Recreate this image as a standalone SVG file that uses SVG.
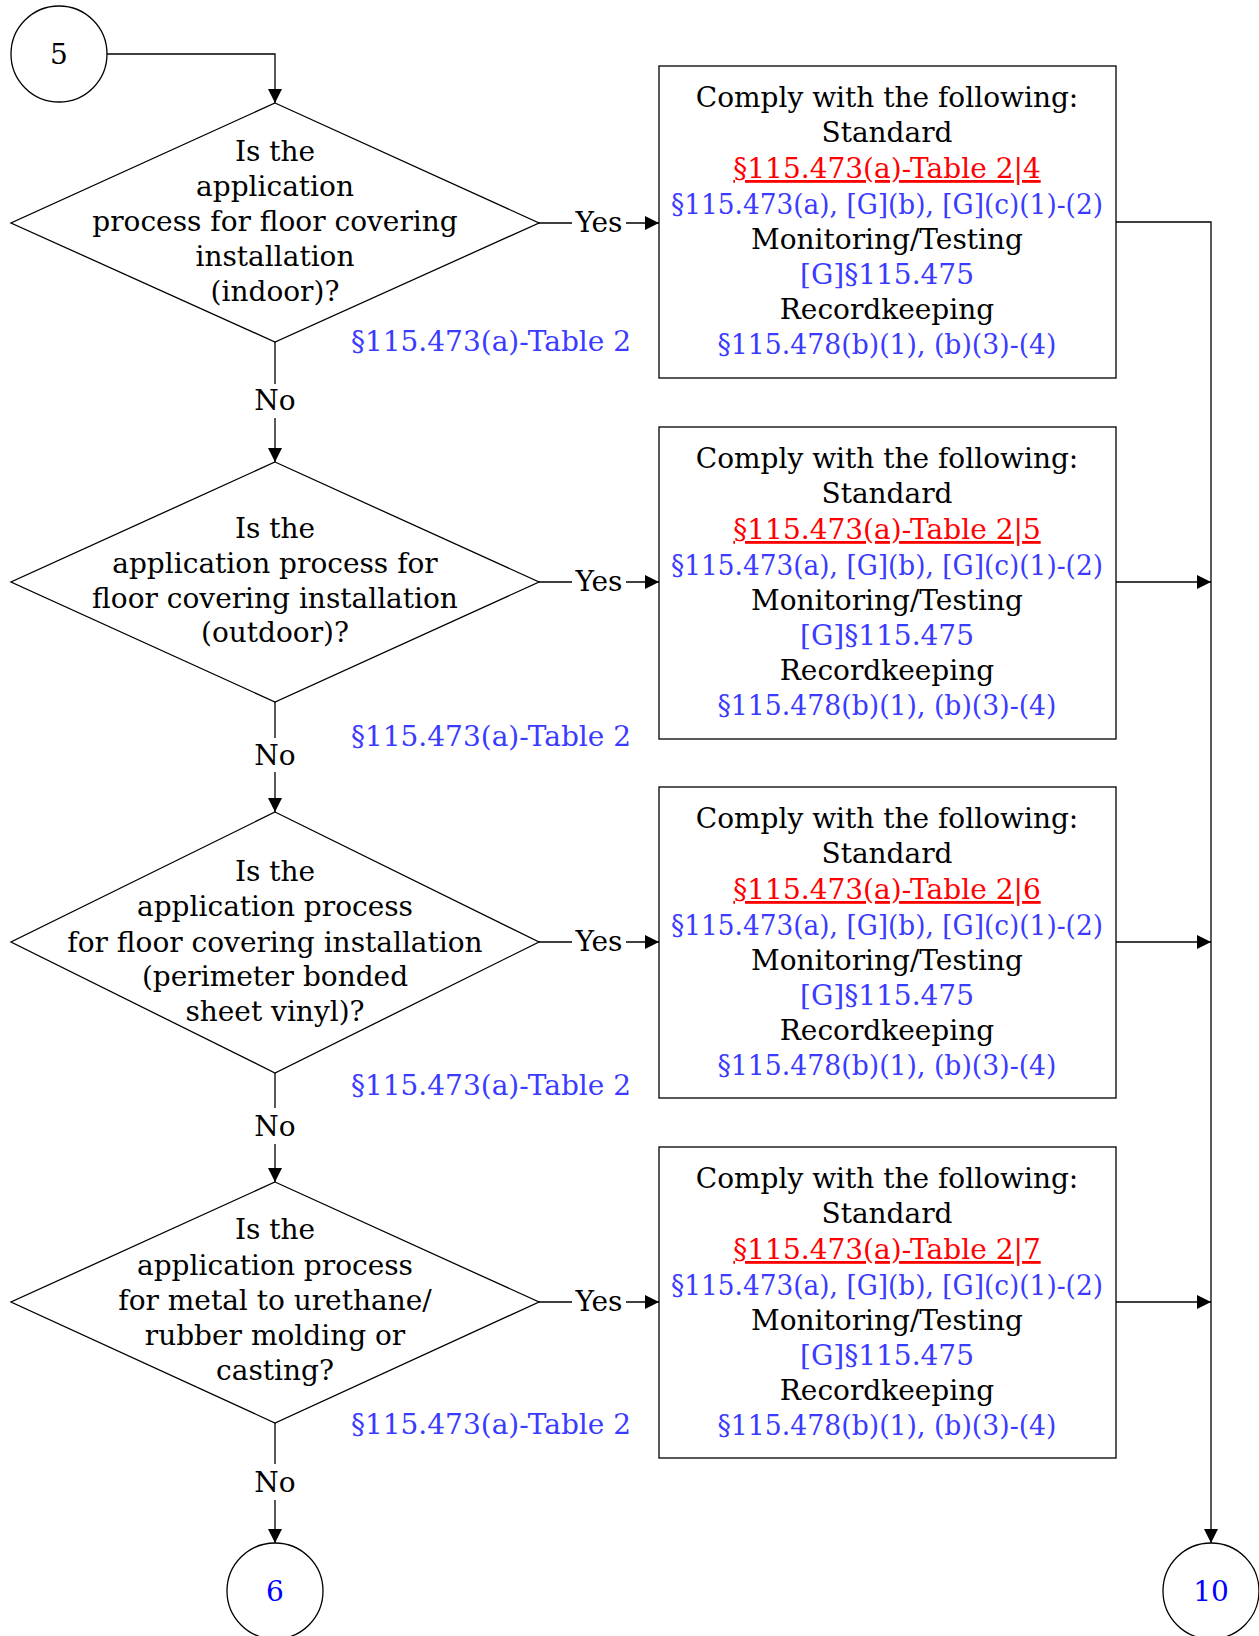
<svg xmlns="http://www.w3.org/2000/svg" width="1259" height="1636" viewBox="0 0 1259 1636">
<style>
text{font-family:"DejaVu Serif","Liberation Serif",serif;font-size:28px;text-anchor:middle;fill:#000}
.b{fill:#3b3bff}
.r{fill:#ff0000;text-decoration:underline}
.n{fill:#0000ff}
.s{fill:#fff;stroke:#000;stroke-width:1.3}
.c{fill:none;stroke:#000;stroke-width:1.3}
</style>
<defs>
<marker id="a" markerWidth="14" markerHeight="14" refX="14" refY="7" orient="auto" markerUnits="userSpaceOnUse">
<path d="M0,0L14,7L0,14z" fill="#000"/>
</marker>
</defs>
<g id="connectors">
<path class="c" d="M107,54H275V103" marker-end="url(#a)"/>
<path class="c" d="M539,223H572M626,223H659" marker-end="url(#a)"/>
<path class="c" d="M539,582H572M626,582H659" marker-end="url(#a)"/>
<path class="c" d="M539,942H572M626,942H659" marker-end="url(#a)"/>
<path class="c" d="M539,1302H572M626,1302H659" marker-end="url(#a)"/>
<path class="c" d="M275,342V384M275,418V462" marker-end="url(#a)"/>
<path class="c" d="M275,702V738M275,772V812" marker-end="url(#a)"/>
<path class="c" d="M275,1073V1108M275,1144V1182" marker-end="url(#a)"/>
<path class="c" d="M275,1423V1464M275,1500V1543" marker-end="url(#a)"/>
<path class="c" d="M1116,222H1211V1543" marker-end="url(#a)"/>
<path class="c" d="M1116,582H1211" marker-end="url(#a)"/>
<path class="c" d="M1116,942H1211" marker-end="url(#a)"/>
<path class="c" d="M1116,1302H1211" marker-end="url(#a)"/>
<text x="599" y="232">Yes</text>
<text x="599" y="591">Yes</text>
<text x="599" y="951">Yes</text>
<text x="599" y="1311">Yes</text>
<text x="275" y="410">No</text>
<text x="275" y="765">No</text>
<text x="275" y="1136">No</text>
<text x="275" y="1492">No</text>
<text class="b" x="491" y="351">§115.473(a)-Table 2</text>
<text class="b" x="491" y="746">§115.473(a)-Table 2</text>
<text class="b" x="491" y="1095">§115.473(a)-Table 2</text>
<text class="b" x="491" y="1434">§115.473(a)-Table 2</text>
</g>
<g id="start5">
<circle class="s" cx="59" cy="54" r="48"/>
<text x="59" y="64">5</text>
</g>
<g id="d1">
<path class="s" d="M275,103L539,223L275,342L11,223z"/>
<text x="275" y="161">Is the</text>
<text x="275" y="196">application</text>
<text x="275" y="231">process for floor covering</text>
<text x="275" y="266">installation</text>
<text x="275" y="301">(indoor)?</text>
</g>
<g id="d2">
<path class="s" d="M275,462L539,582L275,702L11,582z"/>
<text x="275" y="538">Is the</text>
<text x="275" y="573">application process for</text>
<text x="275" y="608">floor covering installation</text>
<text x="275" y="642">(outdoor)?</text>
</g>
<g id="d3">
<path class="s" d="M275,812L539,942L275,1073L11,942z"/>
<text x="275" y="881">Is the</text>
<text x="275" y="916">application process</text>
<text x="275" y="952">for floor covering installation</text>
<text x="275" y="986">(perimeter bonded</text>
<text x="275" y="1021">sheet vinyl)?</text>
</g>
<g id="d4">
<path class="s" d="M275,1182L539,1302L275,1423L11,1302z"/>
<text x="275" y="1239">Is the</text>
<text x="275" y="1275">application process</text>
<text x="275" y="1310">for metal to urethane/</text>
<text x="275" y="1345">rubber molding or</text>
<text x="275" y="1380">casting?</text>
</g>
<g id="box1">
<rect class="s" x="659" y="66" width="457" height="312"/>
<text x="887" y="107">Comply with the following:</text>
<text x="887" y="142">Standard</text>
<text class="r" x="887" y="178">§115.473(a)-Table 2|4</text>
<text class="b" x="887" y="214" textLength="432" lengthAdjust="spacingAndGlyphs">§115.473(a), [G](b), [G](c)(1)-(2)</text>
<text x="887" y="249">Monitoring/Testing</text>
<text class="b" x="887" y="284">[G]§115.475</text>
<text x="887" y="319">Recordkeeping</text>
<text class="b" x="887" y="354" textLength="339" lengthAdjust="spacingAndGlyphs">§115.478(b)(1), (b)(3)-(4)</text>
</g>
<g id="box2">
<rect class="s" x="659" y="427" width="457" height="312"/>
<text x="887" y="468">Comply with the following:</text>
<text x="887" y="503">Standard</text>
<text class="r" x="887" y="539">§115.473(a)-Table 2|5</text>
<text class="b" x="887" y="575" textLength="432" lengthAdjust="spacingAndGlyphs">§115.473(a), [G](b), [G](c)(1)-(2)</text>
<text x="887" y="610">Monitoring/Testing</text>
<text class="b" x="887" y="645">[G]§115.475</text>
<text x="887" y="680">Recordkeeping</text>
<text class="b" x="887" y="715" textLength="339" lengthAdjust="spacingAndGlyphs">§115.478(b)(1), (b)(3)-(4)</text>
</g>
<g id="box3">
<rect class="s" x="659" y="787" width="457" height="311"/>
<text x="887" y="828">Comply with the following:</text>
<text x="887" y="863">Standard</text>
<text class="r" x="887" y="899">§115.473(a)-Table 2|6</text>
<text class="b" x="887" y="935" textLength="432" lengthAdjust="spacingAndGlyphs">§115.473(a), [G](b), [G](c)(1)-(2)</text>
<text x="887" y="970">Monitoring/Testing</text>
<text class="b" x="887" y="1005">[G]§115.475</text>
<text x="887" y="1040">Recordkeeping</text>
<text class="b" x="887" y="1075" textLength="339" lengthAdjust="spacingAndGlyphs">§115.478(b)(1), (b)(3)-(4)</text>
</g>
<g id="box4">
<rect class="s" x="659" y="1147" width="457" height="311"/>
<text x="887" y="1188">Comply with the following:</text>
<text x="887" y="1223">Standard</text>
<text class="r" x="887" y="1259">§115.473(a)-Table 2|7</text>
<text class="b" x="887" y="1295" textLength="432" lengthAdjust="spacingAndGlyphs">§115.473(a), [G](b), [G](c)(1)-(2)</text>
<text x="887" y="1330">Monitoring/Testing</text>
<text class="b" x="887" y="1365">[G]§115.475</text>
<text x="887" y="1400">Recordkeeping</text>
<text class="b" x="887" y="1435" textLength="339" lengthAdjust="spacingAndGlyphs">§115.478(b)(1), (b)(3)-(4)</text>
</g>
<g id="end6">
<circle class="s" cx="275" cy="1591" r="48"/>
<text class="n" x="275" y="1601">6</text>
</g>
<g id="end10">
<circle class="s" cx="1211" cy="1591" r="48"/>
<text class="n" x="1211" y="1601">10</text>
</g>
</svg>
